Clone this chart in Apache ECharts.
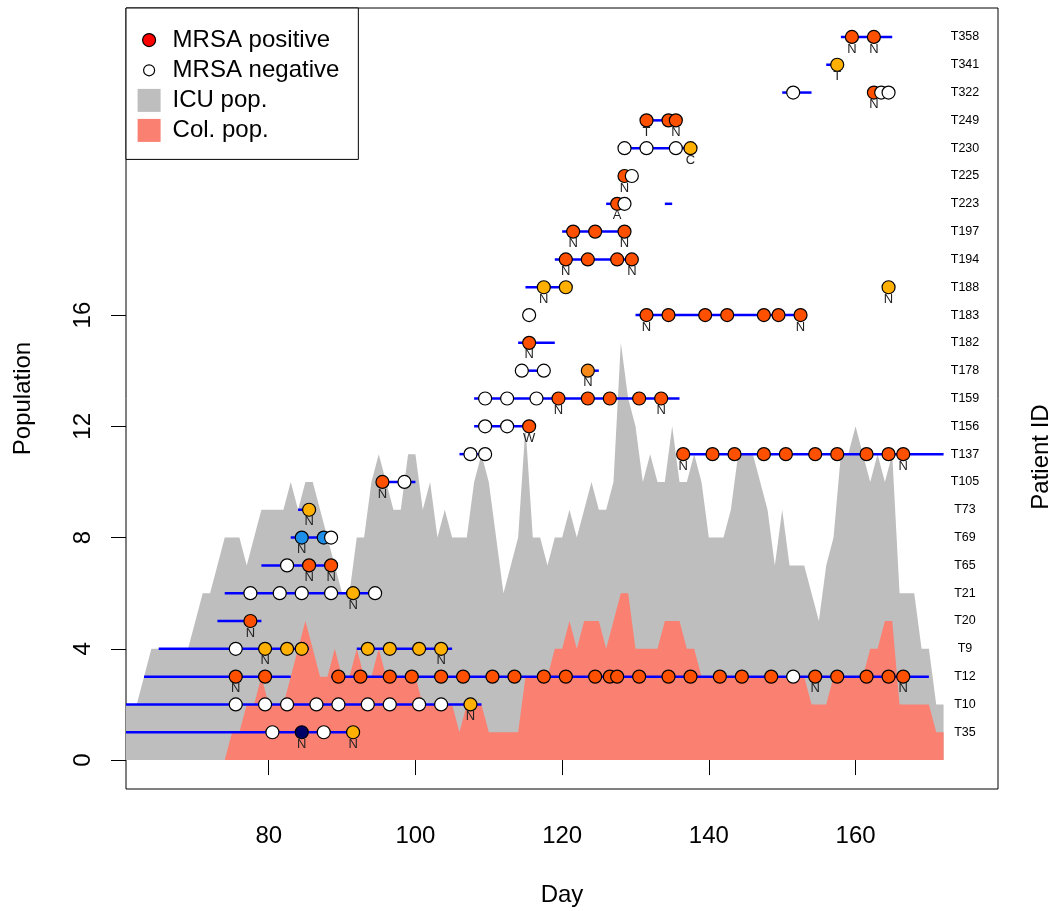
<!DOCTYPE html>
<html>
<head>
<meta charset="utf-8">
<script src="https://cdn.jsdelivr.net/npm/echarts@6/dist/echarts.min.js"></script>
<style>
html,body{margin:0;padding:0;background:#fff;}
#chart{width:1056px;height:911px;}
</style>
</head>
<body>
<div id="chart"></div>
<script>
// ---- Data ----
const patientIds = ['T35','T10','T12','T9','T20','T21','T65','T69','T73','T105','T137','T156','T159','T178','T182','T183','T188','T194','T197','T223','T225','T230','T249','T322','T341','T358'];
const xTicks = [80, 100, 120, 140, 160];
const yTicks = [0, 4, 8, 12, 16];

// ICU population, one value per day starting at icuFirstDay
const icuFirstDay = 60;
const icuPop = [2,2,2,3,4,4,4,4,4,4,
  5,6,6,7,8,8,8,7,8,9,
  9,9,9,10,9,10,10,9,8,7,
  6,6,8,8,10,11,10,9,9,11,
  11,9,10,8,9,8,8,8,10,11,
  10,8,6,7,8,12,8,8,7,8,
  8,9,8,9,10,9,9,10,15,13,
  12,10,11,10,10,12,10,10,11,10,
  8,8,8,9,11,11,11,10,9,7,
  9,7,7,7,6,5,7,8,11,11,
  12,11,10,11,10,11,6,6,6,4,
  4,2,2];
// Colonised population, one value per day starting at colFirstDay
const colFirstDay = 74;
const colPop = [0,1,1,2,2,3,
  2,2,2,3,4,5,4,3,3,4,
  3,3,4,3,3,4,3,3,3,3,
  3,2,2,2,2,2,1,2,2,2,
  1,1,1,1,1,3,3,3,3,4,
  4,5,4,5,5,5,4,5,6,6,
  4,4,4,4,5,5,5,4,4,3,
  3,3,3,3,3,3,3,3,3,3,
  3,3,3,3,2,2,2,3,3,3,
  3,3,4,4,5,5,2,2,2,2,
  2,1,1];

// stays: row (1-based patient index), start day, end day
const stayRow   = [1, 2, 3, 3, 4, 4, 5, 6, 7, 8, 9, 10, 11, 11, 12, 13, 14, 14, 15, 16, 17, 18, 19, 20, 20, 21, 22, 23, 24, 25, 26];
const stayStart = [55, 55, 63, 88.5, 65, 92, 73, 74, 79, 83, 84, 95.5, 106, 136.5, 108, 108, 114.5, 123.5, 114, 130, 115, 119, 120, 126, 134, 128.5, 128.5, 131.5, 150, 156, 158];
const stayEnd   = [91.5, 109, 83, 170, 85.5, 105, 79, 95, 89, 88.5, 85.5, 100, 109.5, 172, 115.5, 136, 117.5, 125, 119, 152.5, 120.5, 129.5, 128.5, 128.5, 135, 129.5, 137.5, 135.5, 154, 157.5, 165];

// tests: row, day, result code, note letter
// P = positive (orange-red), O = orange, D = dark orange, B = blue, K = navy, W = negative (white)
const testRow = [
  1,1,1,1,
  2,2,2,2,2,2,2,2,2,2,
  3,3,3,3,3,3,3,3,3,3,3,3,3,3,3,3,3,3,3,3,3,3,3,3,3,3,3,
  4,4,4,4,4,4,4,4,
  5,
  6,6,6,6,6,6,
  7,7,7,
  8,8,8,
  9,
  10,10,
  11,11,11,11,11,11,11,11,11,11,11,11,
  12,12,12,
  13,13,13,13,13,13,13,13,
  14,14,14,
  15,
  16,16,16,16,16,16,16,16,
  17,17,17,
  18,18,18,18,
  19,19,19,
  20,20,
  21,21,
  22,22,22,22,
  23,23,23,
  24,24,24,24,
  25,
  26,26];
const testDay = [
  80.5,84.5,87.5,91.5,
  75.5,79.5,82.5,86.5,89.5,93.5,96.5,100.5,103.5,107.5,
  75.5,79.5,89.5,92.5,96.5,99.5,103.5,106.5,110.5,113.5,117.5,120.5,124.5,126.5,127.5,130.5,134.5,137.5,141.5,144.5,148.5,151.5,154.5,157.5,161.5,164.5,166.5,
  75.5,79.5,82.5,84.5,93.5,96.5,100.5,103.5,
  77.5,
  77.5,81.5,84.5,88.5,91.5,94.5,
  82.5,85.5,88.5,
  84.5,87.5,88.5,
  85.5,
  95.5,98.5,
  107.5,109.5,136.5,140.5,143.5,147.5,150.5,154.5,157.5,161.5,164.5,166.5,
  109.5,112.5,115.5,
  109.5,112.5,116.5,119.5,123.5,126.5,130.5,133.5,
  114.5,117.5,123.5,
  115.5,
  115.5,131.5,134.5,139.5,142.5,147.5,149.5,152.5,
  117.5,120.5,164.5,
  120.5,123.5,127.5,129.5,
  121.5,124.5,128.5,
  127.5,128.5,
  128.5,129.5,
  128.5,131.5,135.5,137.5,
  131.5,134.5,135.5,
  151.5,162.5,163.5,164.5,
  157.5,
  159.5,162.5];
const testCode = [
  'W','K','W','O',
  'W','W','W','W','W','W','W','W','W','O',
  'P','P','P','P','P','P','P','P','P','P','P','P','P','P','P','P','P','P','P','P','P','W','P','P','P','P','P',
  'W','O','O','O','O','O','O','O',
  'P',
  'W','W','W','W','O','W',
  'W','P','P',
  'B','B','W',
  'O',
  'P','W',
  'W','W','P','P','P','P','P','P','P','P','P','P',
  'W','W','P',
  'W','W','W','P','P','P','P','P',
  'W','W','D',
  'P',
  'W','P','P','P','P','P','P','P',
  'O','O','O',
  'P','P','P','P',
  'P','P','P',
  'P','W',
  'P','W',
  'W','W','W','O',
  'P','P','P',
  'W','P','W','W',
  'O',
  'P','P'];
const testNote = [
  '','N','','N',
  '','','','','','','','','','N',
  'N','','','','','','','','','','','','','','','','','','','','','','N','','','','N',
  '','N','','','','','','N',
  'N',
  '','','','','N','',
  '','N','N',
  'N','','',
  'N',
  'N','',
  '','','N','','','','','','','','','N',
  '','','W',
  '','','','N','','','','N',
  '','','N',
  'N',
  '','N','','','','','','N',
  'N','','N',
  'N','','','N',
  'N','','N',
  'A','',
  'N','',
  '','','','C',
  'T','','N',
  '','N','','',
  'T',
  'N','N'];

// ---- Styles ----
const FONT = '"Liberation Sans", Arial, Helvetica, sans-serif';
const codeColor = {P: '#ff5000', O: '#ffb000', D: '#f58a1a', B: '#1e8fe8', K: '#000066', W: '#ffffff'};

const icuData = icuPop.map((v, i) => [icuFirstDay + i, v]);
const colData = colPop.map((v, i) => [colFirstDay + i, v]);
const stayData = stayRow.map((r, i) => [stayStart[i], stayEnd[i], r]);

function pointItem(i) {
  const note = testNote[i];
  return {
    value: [testDay[i], testRow[i]],
    itemStyle: {color: codeColor[testCode[i]]},
    label: note ? {show: true, formatter: note} : {show: false}
  };
}
const posData = [], negData = [];
testCode.forEach((c, i) => { (c === 'W' ? negData : posData).push(pointItem(i)); });

// legend icons drawn in a 30x23 box (icon on the left, spacing on the right)
function circleIcon(r) {
  const c = 11.5;
  return 'path://M0,0M30,23M' + (c + r) + ',' + c + 'A' + r + ',' + r + ',0,1,1,' + (c - r) + ',' + c + 'A' + r + ',' + r + ',0,1,1,' + (c + r) + ',' + c + 'Z';
}
const rectIcon = 'path://M30,23M0,0L23,0L23,23L0,23Z';

const pointLabel = {position: 'inside', offset: [0, 12], fontSize: 13, color: '#222', fontFamily: FONT};

const chart = echarts.init(document.getElementById('chart'), null, {renderer: 'canvas'});
chart.setOption({
  animation: false,
  backgroundColor: '#fff',
  textStyle: {fontFamily: FONT},
  grid: {left: 126, right: 58, top: 8, bottom: 122, show: true, borderColor: '#000', borderWidth: 1,
    backgroundColor: 'transparent', containLabel: false, outerBoundsMode: 'none'},
  xAxis: {
    type: 'value', min: 60.54, max: 179.42,
    name: 'Day', nameLocation: 'middle', nameGap: 94,
    nameTextStyle: {fontSize: 24, color: '#000', fontFamily: FONT},
    axisLine: {show: false},
    axisTick: {show: true, length: 15, customValues: xTicks, lineStyle: {color: '#000', width: 1}},
    axisLabel: {customValues: xTicks, fontSize: 24, color: '#000', margin: 35, fontFamily: FONT},
    splitLine: {show: false}
  },
  yAxis: [{
    type: 'value', min: -1.04, max: 27.04,
    name: 'Population', nameLocation: 'middle', nameGap: 91,
    nameTextStyle: {fontSize: 24, color: '#000', fontFamily: FONT},
    axisLine: {show: false},
    axisTick: {show: true, length: 15, customValues: yTicks, lineStyle: {color: '#000', width: 1}},
    axisLabel: {customValues: yTicks, rotate: 90, fontSize: 24, color: '#000', margin: 31, fontFamily: FONT},
    splitLine: {show: false}
  }, {
    type: 'value', min: -1.04, max: 27.04, position: 'right',
    axisLine: {show: false},
    axisTick: {show: false},
    axisLabel: {
      customValues: patientIds.map((p, i) => i + 1),
      inside: true, margin: 33, align: 'center',
      fontSize: 12.5, color: '#000', fontFamily: FONT,
      formatter: v => patientIds[Math.round(v) - 1] || ''
    },
    splitLine: {show: false}
  }],
  legend: {
    left: 126, top: 8, orient: 'vertical',
    backgroundColor: '#fff', borderColor: '#000', borderWidth: 1, borderRadius: 0,
    padding: [20, 19, 17, 11],
    itemWidth: 30, itemHeight: 23, itemGap: 6,
    selectedMode: false,
    textStyle: {fontSize: 24, color: '#000', fontFamily: FONT},
    data: [
      {name: 'MRSA positive', icon: circleIcon(6.5), itemStyle: {color: '#ff0000', borderColor: '#000', borderWidth: 1.2}},
      {name: 'MRSA negative', icon: circleIcon(5.5), itemStyle: {color: '#ffffff', borderColor: '#000', borderWidth: 1.2}},
      {name: 'ICU pop.', icon: rectIcon, itemStyle: {color: '#bebebe', borderWidth: 0}},
      {name: 'Col. pop.', icon: rectIcon, itemStyle: {color: '#fa8072', borderWidth: 0}}
    ]
  },
  graphic: [{
    type: 'text', x: 1041, y: 457, rotation: Math.PI / 2,
    style: {text: 'Patient ID', fontSize: 24, fill: '#000', align: 'center', verticalAlign: 'middle', fontFamily: FONT}
  }],
  series: [{
    name: 'ICU pop.', type: 'line', data: icuData, symbol: 'none', clip: true,
    color: '#bebebe', lineStyle: {width: 0, color: '#bebebe'}, areaStyle: {color: '#bebebe', opacity: 1}, z: 1
  }, {
    name: 'Col. pop.', type: 'line', data: colData, symbol: 'none', clip: true,
    color: '#fa8072', lineStyle: {width: 0, color: '#fa8072'}, areaStyle: {color: '#fa8072', opacity: 1}, z: 2
  }, {
    name: 'Stay', type: 'custom', coordinateSystem: 'cartesian2d', data: stayData, clip: true,
    encode: {x: [0, 1], y: 2},
    renderItem: function (params, api) {
      const p1 = api.coord([api.value(0), api.value(2)]);
      const p2 = api.coord([api.value(1), api.value(2)]);
      return {type: 'line', shape: {x1: p1[0], y1: p1[1], x2: p2[0], y2: p2[1]},
        style: {stroke: '#0000ff', lineWidth: 2.5}};
    },
    z: 3
  }, {
    name: 'MRSA positive', type: 'scatter', data: posData, symbolSize: 13,
    itemStyle: {borderColor: '#000', borderWidth: 1.2, opacity: 1}, label: pointLabel, z: 4
  }, {
    name: 'MRSA negative', type: 'scatter', data: negData, symbolSize: 13,
    itemStyle: {color: '#fff', borderColor: '#000', borderWidth: 1.2, opacity: 1}, label: pointLabel, z: 5
  }]
});
</script>
</body>
</html>
